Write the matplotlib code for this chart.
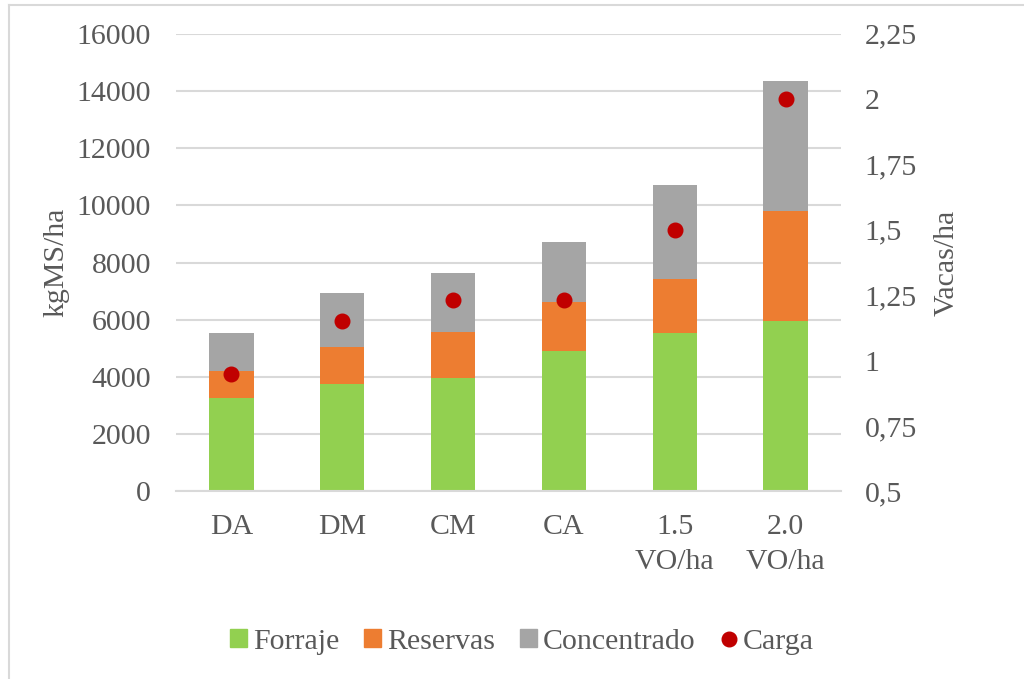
import numpy as np
import matplotlib.pyplot as plt
from matplotlib.lines import Line2D
from matplotlib.patches import Patch
from matplotlib.ticker import FixedLocator, FuncFormatter

# Datos por sistema
sistemas = ['DA', 'DM', 'CM', 'CA', '1.5\nVO/ha', '2.0\nVO/ha']
forraje = [3260, 3760, 3970, 4900, 5540, 5960]
reservas = [945, 1285, 1610, 1725, 1885, 3855]
concentrado = [1320, 1880, 2055, 2090, 3295, 4525]
carga = [0.95, 1.15, 1.23, 1.23, 1.50, 2.00]

verde = '#92D050'
naranja = '#ED7D31'
gris = '#A5A5A5'
rojo = '#C00000'
texto = '#595959'
grilla = '#D9D9D9'

plt.rcParams['font.family'] = ['Liberation Serif', 'DejaVu Serif']
plt.rcParams['font.size'] = 21.5

fig = plt.figure(figsize=(10.24, 6.79), dpi=100)
ax = fig.add_axes([0.1719, 0.2764, 0.6494, 0.6740])
ax2 = ax.twinx()

x = np.arange(len(sistemas))
base2 = np.array(forraje) + np.array(reservas)
ax.bar(x, forraje, width=0.4, color=verde, zorder=2)
ax.bar(x, reservas, width=0.4, bottom=forraje, color=naranja, zorder=2)
ax.bar(x, concentrado, width=0.4, bottom=base2, color=gris, zorder=2)

ax2.plot(x, carga, 'o', color=rojo, markersize=10.5, zorder=3)

# Eje izquierdo
ax.set_ylim(0, 16000)
ax.set_xlim(-0.5, len(sistemas) - 0.5)
ax.set_yticks(np.arange(0, 16001, 2000))
ax.yaxis.grid(True, color=grilla, linewidth=1.5, zorder=0)
ax.set_axisbelow(True)
ax.set_xticks(x)
ax.set_xticklabels(sistemas, color=texto, linespacing=1.45)
ax.tick_params(axis='y', colors=texto, length=0, pad=18)
ax.tick_params(axis='x', colors=texto, length=0, pad=16)
ax.set_ylabel('kgMS/ha', color=texto, labelpad=5)

# Eje derecho
ax2.set_ylim(0.5, 2.25)
ax2.yaxis.set_major_locator(FixedLocator([0.5, 0.75, 1, 1.25, 1.5, 1.75, 2, 2.25]))
ax2.yaxis.set_major_formatter(FuncFormatter(lambda v, p: f'{v:g}'.replace('.', ',')))
ax2.tick_params(axis='y', colors=texto, length=0, pad=17)
ax2.set_ylabel('Vacas/ha', color=texto, labelpad=12)

for a in (ax, ax2):
    for s in a.spines.values():
        s.set_visible(False)
ax.spines['bottom'].set_visible(True)
ax.spines['bottom'].set_color(grilla)
ax.spines['bottom'].set_linewidth(1.5)

# Leyenda
handles = [
    Patch(color=verde, label='Forraje'),
    Patch(color=naranja, label='Reservas'),
    Patch(color=gris, label='Concentrado'),
    Line2D([], [], marker='o', color=rojo, linestyle='none', markersize=10.5, label='Carga'),
]
leg = fig.legend(handles=handles, loc='center', bbox_to_anchor=(0.51, 0.055), ncol=4,
                 frameon=False, handlelength=0.55, handleheight=0.55, handletextpad=0.2,
                 columnspacing=0.85)
for t in leg.get_texts():
    t.set_color(texto)

# Marco del gráfico
fig.add_artist(Line2D([9 / 1024, 9 / 1024], [0, 1 - 5 / 679], transform=fig.transFigure,
                      color=grilla, linewidth=1.5))
fig.add_artist(Line2D([9 / 1024, 1], [1 - 5 / 679, 1 - 5 / 679], transform=fig.transFigure,
                      color=grilla, linewidth=1.5))

fig.savefig('out.png', dpi=100)
